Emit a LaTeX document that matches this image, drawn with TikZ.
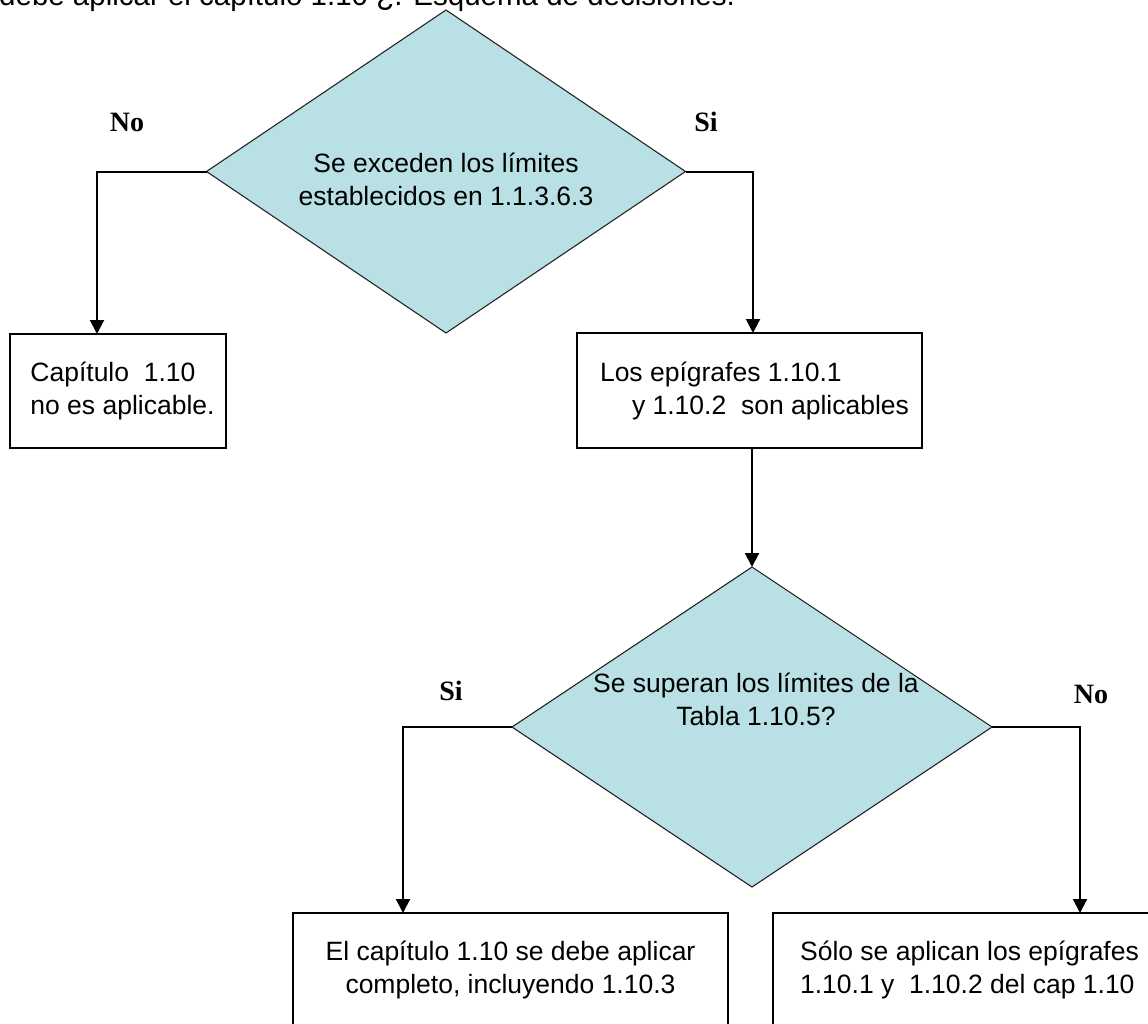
\documentclass[tikz,border=0pt]{standalone}
\usepackage{fontspec}
\setmainfont{Liberation Sans}
\newfontfamily\lblfont{Liberation Serif}
\usetikzlibrary{shapes.geometric,arrows.meta,calc}
\definecolor{decfill}{RGB}{185,224,228}
\begin{document}
\begin{tikzpicture}[x=1pt,y=-1pt,
  decision/.style={diamond, draw=black!85, line width=1.1pt, fill=decfill,
    inner sep=0pt, outer sep=0pt, aspect=1.48},
  dtext/.style={font=\fontsize{26.5}{33}\selectfont, inner sep=0pt, align=center},
  box/.style={draw, line width=1.8pt, inner sep=0pt, outer sep=0pt,
    font=\fontsize{26.5}{33}\selectfont},
  conn/.style={line width=2pt, -{Triangle[width=14pt,length=14pt]}},
  yn/.style={font=\lblfont\bfseries\fontsize{28}{28}\selectfont, inner sep=0pt, anchor=base},
]
\clip (0,0) rectangle (1148,1023);
\fill[white] (0,0) rectangle (1148,1023);

% title (cut at top)
\node[anchor=base west, inner sep=0pt, font=\fontsize{29.5}{30}\selectfont] (title) at (-1,5.5)
  {debe aplicar el capítulo 1.10 ¿. Esquema de decisiones.};

% decisions
\node[decision, minimum width=479pt, minimum height=323pt] (d1) at (446,171.5) {};
\node[dtext] (d1t) at ($(d1.center)+(0,8)$) {Se exceden los límites\\establecidos en 1.1.3.6.3};

\node[decision, minimum width=480pt, minimum height=320pt] (d2) at (752,727) {};
\node[dtext] (d2t) at ($(d2.center)+(4,-27.2)$) {Se superan los límites de la\\Tabla 1.10.5?};

% boxes
\node[box, minimum width=216pt, minimum height=114pt, align=left] (b1) at (118,391)
  {\hspace*{9pt}Capítulo\ \ 1.10\\\hspace*{9pt}no es aplicable.};
\node[box, minimum width=345pt, minimum height=115pt, align=left] (b2) at (749.5,390.5)
  {\hspace*{10pt}Los epígrafes 1.10.1\\\hspace*{42pt}y 1.10.2\ \ son aplicables};
\node[box, minimum width=435pt, minimum height=114pt, align=center] (b3) at (510.5,970)
  {El capítulo 1.10 se debe aplicar\\completo, incluyendo 1.10.3};
\node[box, minimum width=393pt, minimum height=114pt, align=left] (b4) at (969.5,970)
  {Sólo se aplican los epígrafes\\1.10.1 y\ \ 1.10.2 del cap 1.10};

% connectors
\draw[conn] (d1.west) -| ([xshift=-21pt]b1.north);
\draw[conn] (d1.east) -| ([xshift=3.5pt]b2.north);
\draw[conn] ([xshift=2.5pt]b2.south) -- (d2.north);
\draw[conn] (d2.west) -| ([xshift=-107.5pt]b3.north);
\draw[conn] (d2.east) -| ([xshift=110.5pt]b4.north);

% labels
\node[yn] (no1) at (127,131.5) {No};
\node[yn] (si1) at (706,131.5) {Si};
\node[yn] (si2) at (451,700) {Si};
\node[yn] (no2) at (1091,703) {No};
\end{tikzpicture}
\end{document}
